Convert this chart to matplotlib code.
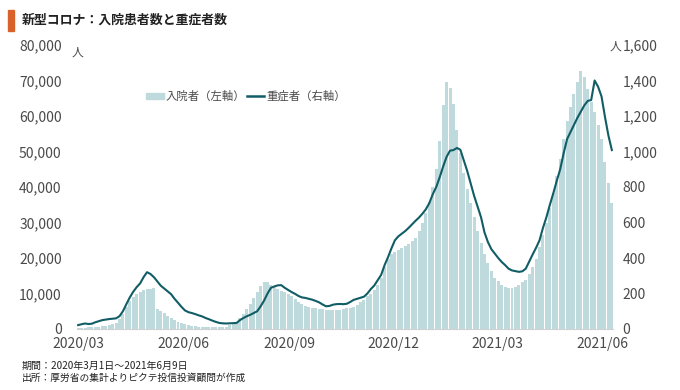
import matplotlib
matplotlib.use("Agg")
import matplotlib.pyplot as plt
import numpy as np
import pandas as pd
from matplotlib.patches import Rectangle
from matplotlib.lines import Line2D

plt.rcParams["font.family"] = ["Noto Sans CJK JP", "DejaVu Sans"]

# 2020/03/01 - 2021/06/09, read every 3 days
start_date = "2020-03-01"
hospitalized = [
    300, 350, 400, 450, 500, 550, 650, 750, 900, 1100,
    1400, 1800, 2700, 4200, 6100, 7800, 9000, 9800, 10500, 10900,
    11200, 11350, 11450, 5700, 5200, 4400, 3700, 3000, 2400, 1950,
    1600, 1300, 1100, 900, 800, 700, 600, 550, 500, 480,
    500, 550, 600, 700, 1000, 1500, 2100, 3200, 4300, 5500,
    7000, 8800, 10500, 12000, 13200, 13100, 12500, 11900, 11200, 10800,
    10500, 10000, 9200, 8400, 7500, 7000, 6600, 6200, 6000, 5800,
    5600, 5500, 5400, 5350, 5350, 5400, 5450, 5600, 5800, 6000,
    6300, 6800, 7500, 8300, 9200, 10000, 11100, 12500, 14500, 17500,
    19800, 21000, 21600, 22300, 22800, 23400, 24000, 24800, 25700, 27700,
    30000, 32800, 35800, 40000, 45000, 53000, 63000, 69500, 68000, 63500,
    56000, 49500, 44000, 39500, 35500, 31500, 27500, 24200, 21000, 18500,
    16200, 14400, 13400, 12500, 11800, 11500, 11500, 11800, 12400, 13200,
    13900, 15500, 17600, 19800, 23000, 26500, 30000, 34000, 38300, 43000,
    48000, 53500, 58500, 62500, 66300, 69600, 72800, 71000, 67500, 64000,
    61000, 57500, 53500, 47000, 41000, 35500,
]
severe = [
    22, 27, 31, 28, 30, 38, 44, 50, 53, 56,
    58, 60, 72, 100, 140, 178, 210, 236, 257, 292,
    320, 310, 292, 268, 244, 228, 212, 196, 170, 148,
    125, 105, 95, 90, 84, 77, 71, 62, 55, 47,
    40, 34, 32, 31, 32, 33, 34, 50, 62, 72,
    80, 90, 100, 128, 160, 200, 232, 240, 246, 247,
    232, 220, 208, 198, 186, 178, 175, 170, 165, 158,
    150, 138, 128, 130, 137, 140, 141, 140, 142, 152,
    164, 170, 176, 182, 200, 225, 245, 275, 305, 360,
    405, 455, 500, 522, 537, 552, 570, 590, 610, 628,
    650, 675, 710, 760, 800, 855, 915, 970, 1005, 1008,
    1020, 1010, 950, 890, 820, 750, 690, 630, 545, 490,
    450, 425, 400, 378, 360, 340, 330, 326, 322, 325,
    340, 380, 420, 458, 500, 570, 630, 700, 765, 835,
    900, 990, 1070, 1110, 1150, 1190, 1225, 1260, 1285, 1290,
    1400, 1365, 1310, 1195, 1090, 1008,
]
tick_labels = ["2020/03", "2020/06", "2020/09", "2020/12", "2021/03", "2021/06"]

BAR_COLOR = "#bfdadd"
LINE_COLOR = "#115d66"
TEXT_COLOR = "#4a4a4a"

days = np.arange(len(hospitalized)) * 3
t0 = pd.Timestamp(start_date)
tick_days = [(pd.Timestamp(l.replace("/", "-") + "-01") - t0).days for l in tick_labels]

fig = plt.figure(figsize=(6.8, 3.9), dpi=100)
ax = fig.add_axes([77 / 680, 61 / 390, 536 / 680, 284 / 390])
ax2 = ax.twinx()

ax.bar(days, hospitalized, width=2.6, color=BAR_COLOR, linewidth=0)
ax2.plot(days, severe, color=LINE_COLOR, linewidth=1.5)

ax.set_xlim(-1, 466)
ax.set_ylim(0, 80000)
ax2.set_ylim(0, 1600)
ax.set_yticks(np.arange(0, 80001, 10000))
ax.set_yticklabels([f"{v:,}" for v in range(0, 80001, 10000)])
ax2.set_yticks(np.arange(0, 1601, 200))
ax2.set_yticklabels([f"{v:,}" for v in range(0, 1601, 200)])
ax.set_xticks(tick_days)
ax.set_xticklabels(tick_labels)

for a in (ax, ax2):
    for s in a.spines.values():
        s.set_visible(False)
    a.tick_params(length=0, labelsize=10, colors=TEXT_COLOR)
ax.spines["bottom"].set_visible(True)
ax.spines["bottom"].set_color("#d0d0d0")
ax.tick_params(axis="y", pad=11)
ax2.tick_params(axis="y", pad=7)
ax.tick_params(axis="x", pad=6)

# unit labels
fig.text(77 / 680, 1 - 52 / 390, "人", fontsize=8.5, color=TEXT_COLOR, va="center", ha="center")
fig.text(615 / 680, 1 - 46 / 390, "人", fontsize=8.5, color=TEXT_COLOR, va="center", ha="center")

handles = [Rectangle((0, 0), 1, 1, color=BAR_COLOR),
           Line2D([0], [0], color=LINE_COLOR, linewidth=1.8)]
ax2.legend(handles, ["入院者（左軸）", "重症者（右軸）"], ncol=2, frameon=False,
           loc="center", bbox_to_anchor=(246 / 680, 1 - 96 / 390),
           bbox_transform=fig.transFigure, fontsize=8.2, handlelength=1.5,
           handleheight=0.45, handletextpad=0.15, columnspacing=0.2,
           labelcolor=TEXT_COLOR)

# title with orange marker
fig.patches.append(Rectangle((8 / 680, 1 - 31 / 390), 6 / 680, 21 / 390,
                             transform=fig.transFigure, color="#d9622b"))
fig.text(22 / 680, 1 - 20 / 390, "新型コロナ：入院患者数と重症者数", fontsize=9.3,
         fontweight="bold", color="#222222", va="center", ha="left")

fig.text(22 / 680, 1 - 366 / 390, "期間：2020年3月1日～2021年6月9日", fontsize=7.2,
         color="#222222", va="center", ha="left")
fig.text(22 / 680, 1 - 378 / 390, "出所：厚労省の集計よりピクテ投信投資顧問が作成", fontsize=7,
         color="#222222", va="center", ha="left")

fig.savefig("out.png", dpi=100)
